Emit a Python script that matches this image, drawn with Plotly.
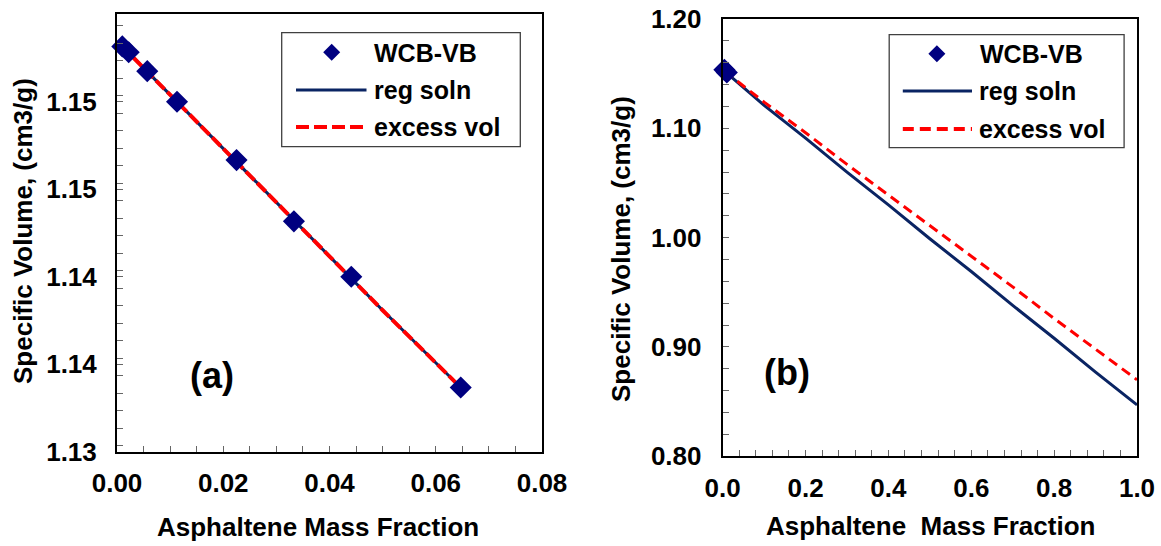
import plotly.graph_objects as go

W, H = 1161, 546

# ---------------- data ----------------
left_x_data = [0.0010, 0.0022, 0.0057, 0.0113, 0.0225, 0.0333, 0.0441, 0.0647]
left_y_data = [1.1578, 1.1574, 1.1561, 1.1540, 1.1500, 1.1458, 1.1420, 1.1344]
left_x_line = [0.001, 0.01, 0.02, 0.03, 0.04, 0.05, 0.06, 0.0647]
left_reg = [1.1578, 1.1545, 1.1508, 1.1471, 1.1434, 1.1397, 1.1361, 1.1344]
left_exc = [1.1578, 1.1545, 1.1508, 1.1471, 1.1434, 1.1397, 1.1361, 1.1344]

right_x_data = [0.004, 0.010]
right_y_data = [1.1535, 1.1510]
right_x_line = [0.005, 0.1, 0.2, 0.3, 0.4, 0.5, 0.6, 0.7, 0.8, 0.9, 1.0]
right_reg = [1.152, 1.121, 1.091, 1.060, 1.030, 0.999, 0.969, 0.938, 0.908, 0.877, 0.847]
right_exc = [1.152, 1.124, 1.096, 1.067, 1.039, 1.011, 0.983, 0.955, 0.926, 0.898, 0.870]

series_names = ["WCB-VB", "reg soln", "excess vol"]
x_title_left = "Asphaltene Mass Fraction"
x_title_right = "Asphaltene  Mass Fraction"
y_title = "Specific Volume, (cm3/g)"
panel_labels = ["(a)", "(b)"]

# ---------------- styles ----------------
FAM = "Liberation Sans, Arial, sans-serif"
MARK = "#000080"
NAVY = "#0a2463"
RED = "#ff0000"
TICKC = "#666666"


def PX(x):
    return x / W


def PY(y):
    return 1 - y / H


def font(size):
    return dict(family=FAM, size=size, color="black", weight="bold")


fig = go.Figure()

# left panel
fig.add_trace(go.Scatter(x=left_x_line, y=left_reg, mode="lines", name=series_names[1],
                         line=dict(color=NAVY, width=3), xaxis="x", yaxis="y", showlegend=False))
fig.add_trace(go.Scatter(x=left_x_line, y=left_exc, mode="lines", name=series_names[2],
                         line=dict(color=RED, width=4, dash="12px,4px"), xaxis="x", yaxis="y",
                         showlegend=False))
fig.add_trace(go.Scatter(x=left_x_data, y=left_y_data, mode="markers", name=series_names[0],
                         marker=dict(symbol="diamond", size=17, color=MARK, line=dict(width=0)),
                         cliponaxis=False, xaxis="x", yaxis="y", showlegend=False))

# right panel
fig.add_trace(go.Scatter(x=right_x_line, y=right_reg, mode="lines", name=series_names[1],
                         line=dict(color=NAVY, width=3), xaxis="x2", yaxis="y2", showlegend=False))
fig.add_trace(go.Scatter(x=right_x_line, y=right_exc, mode="lines", name=series_names[2],
                         line=dict(color=RED, width=3, dash="10px,6px"), xaxis="x2", yaxis="y2",
                         showlegend=False))
fig.add_trace(go.Scatter(x=right_x_data, y=right_y_data, mode="markers", name=series_names[0],
                         marker=dict(symbol="diamond", size=17, color=MARK, line=dict(width=0)),
                         cliponaxis=False, xaxis="x2", yaxis="y2", showlegend=False))


def axis(domain, rng, dtick, mdtick, fmt, anchor, standoff):
    return dict(domain=domain, range=rng, tick0=rng[0], dtick=dtick, tickformat=fmt,
                showline=True, linecolor="black", linewidth=2, mirror=True,
                ticks="inside", ticklen=6, tickcolor=TICKC, tickwidth=1.3,
                minor=dict(dtick=mdtick, ticks="inside", ticklen=6, tickcolor=TICKC, tickwidth=1.3),
                showgrid=False, zeroline=False, tickfont=font(26), anchor=anchor,
                ticklabelstandoff=standoff, automargin=False, fixedrange=True)


L_plot = (117, 542, 14.3, 451.7)
R_plot = (722.7, 1137, 19, 456.3)

fig.update_layout(
    width=W, height=H,
    margin=dict(l=0, r=0, t=0, b=0, pad=0, autoexpand=False),
    paper_bgcolor="white", plot_bgcolor="white",
    xaxis=axis([PX(L_plot[0]), PX(L_plot[1])], [0, 0.08], 0.02, 0.005, ".2f", "y", 7),
    yaxis=axis([PY(L_plot[3]), PY(L_plot[2])], [1.13, 1.16], 0.006, 0.0012, ".2f", "x", 13),
    xaxis2=axis([PX(R_plot[0]), PX(R_plot[1])], [0, 1.0], 0.2, 0.04, ".1f", "y2", 7),
    yaxis2=axis([PY(R_plot[3]), PY(R_plot[2])], [0.8, 1.2], 0.1, 0.02, ".2f", "x2", 14),
    showlegend=False,
)

ann = []
# axis titles
ann.append(dict(text=x_title_left, x=PX(318), y=PY(527), xref="paper", yref="paper",
                showarrow=False, font=font(26), xanchor="center", yanchor="middle"))
ann.append(dict(text=x_title_right, x=PX(930), y=PY(526), xref="paper", yref="paper",
                showarrow=False, font=font(26), xanchor="center", yanchor="middle"))
ann.append(dict(text=y_title, x=PX(23), y=PY(231), xref="paper", yref="paper",
                showarrow=False, font=font(26), textangle=-90, xanchor="center", yanchor="middle"))
ann.append(dict(text=y_title, x=PX(621), y=PY(249), xref="paper", yref="paper",
                showarrow=False, font=font(26), textangle=-90, xanchor="center", yanchor="middle"))
# panel labels
ann.append(dict(text=panel_labels[0], x=0.0178, y=1.1352, xref="x", yref="y",
                showarrow=False, font=font(36), xanchor="center", yanchor="middle"))
ann.append(dict(text=panel_labels[1], x=0.156, y=0.8771, xref="x2", yref="y2",
                showarrow=False, font=font(36), xanchor="center", yanchor="middle"))

shapes = []


def legend(box, dia, line_x, ys, text_x, dash):
    x0, x1, y0, y1 = box
    shapes.append(dict(type="rect", xref="paper", yref="paper", x0=PX(x0), x1=PX(x1),
                       y0=PY(y1), y1=PY(y0), line=dict(color="#404040", width=1.3),
                       fillcolor="white", layer="below"))
    cx, cy = dia
    r = 8.5
    path = "M {} {} L {} {} L {} {} L {} {} Z".format(
        PX(cx - r), PY(cy), PX(cx), PY(cy - r), PX(cx + r), PY(cy), PX(cx), PY(cy + r))
    shapes.append(dict(type="path", xref="paper", yref="paper", path=path,
                       fillcolor=MARK, line=dict(width=0)))
    shapes.append(dict(type="line", xref="paper", yref="paper", x0=PX(line_x[0]), x1=PX(line_x[1]),
                       y0=PY(ys[1]), y1=PY(ys[1]), line=dict(color=NAVY, width=3)))
    shapes.append(dict(type="line", xref="paper", yref="paper", x0=PX(line_x[0]), x1=PX(line_x[1]),
                       y0=PY(ys[2]), y1=PY(ys[2]), line=dict(color=RED, width=4, dash=dash)))
    for name, yy, xx in zip(series_names, ys, text_x):
        ann.append(dict(text=name, x=PX(xx), y=PY(yy), xref="paper", yref="paper",
                        showarrow=False, font=font(25), xanchor="left", yanchor="middle"))


legend((281.7, 520.3, 32.7, 146.7), (331.7, 52.3), (296, 366.5), (53, 90, 127),
       (372, 372, 372), "13px,5px")
legend((889.2, 1124.1, 34.6, 147.6), (936.9, 53.8), (902.8, 972), (54, 91, 129),
       (978, 977, 977), "11px,6px")

fig.update_layout(annotations=ann, shapes=shapes)

fig.write_html(
    "out.html",
    config={"displayModeBar": False},
    post_script="document.body.style.margin='0px';document.documentElement.style.overflow='hidden';",
)
